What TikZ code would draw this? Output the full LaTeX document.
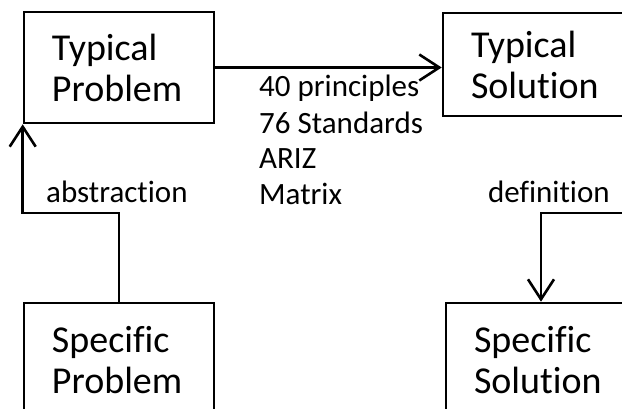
\documentclass[tikz,border=0pt]{standalone}
\usepackage{fontspec}
\setmainfont{Carlito}[Ligatures=NoCommon]
\usetikzlibrary{arrows.meta}
\begin{document}
\begin{tikzpicture}[x=1pt,y=-1pt,
  stage/.style={draw, line width=2.6pt, minimum width=190pt, inner xsep=28pt,
    text width=134pt, align=left, font=\fontsize{38}{41}\selectfont},
  link/.style={line width=2.6pt, -{Straight Barb[length=20pt,width=26pt]}},
  note/.style={inner sep=0pt, anchor=base west, align=left,
    font=\fontsize{31}{36}\selectfont}]
  \useasboundingbox (0,0) rectangle (622,409);
  \clip (0,0) rectangle (622,409);

  % the four stages
  \node[stage, minimum height=111pt] (tp) at (119,67.5) {Typical\\Problem};
  \node[stage, minimum height=103pt] (ts) at (538,64.5) {Typical\\Solution};
  \node[stage, minimum height=114pt] (sp) at (119,360) {Specific\\Problem};
  \node[stage, minimum height=114pt] (ss) at (541,360) {Specific\\Solution};

  % height of the horizontal runs of the elbow connectors
  \coordinate (up) at (0,213);

  % typical problem -> typical solution (base anchor sits on the last line)
  \draw[link] (tp.east) -- (tp.east -| ts.west);
  \node[note] (tools) at (259,205) {40 principles\\76 Standards\\ARIZ\\Matrix};

  % specific problem -> typical problem
  \draw[link] (sp.north) |- (up -| tp.south west) -- (tp.south west);
  \node[note] (abs) at (46,203) {abstraction};

  % typical solution -> specific solution
  \draw[link] (ts.south east) |- (up -| ss.north) -- (ss.north);
  \node[note] (def) at (488,203) {definition};
\end{tikzpicture}
\end{document}
